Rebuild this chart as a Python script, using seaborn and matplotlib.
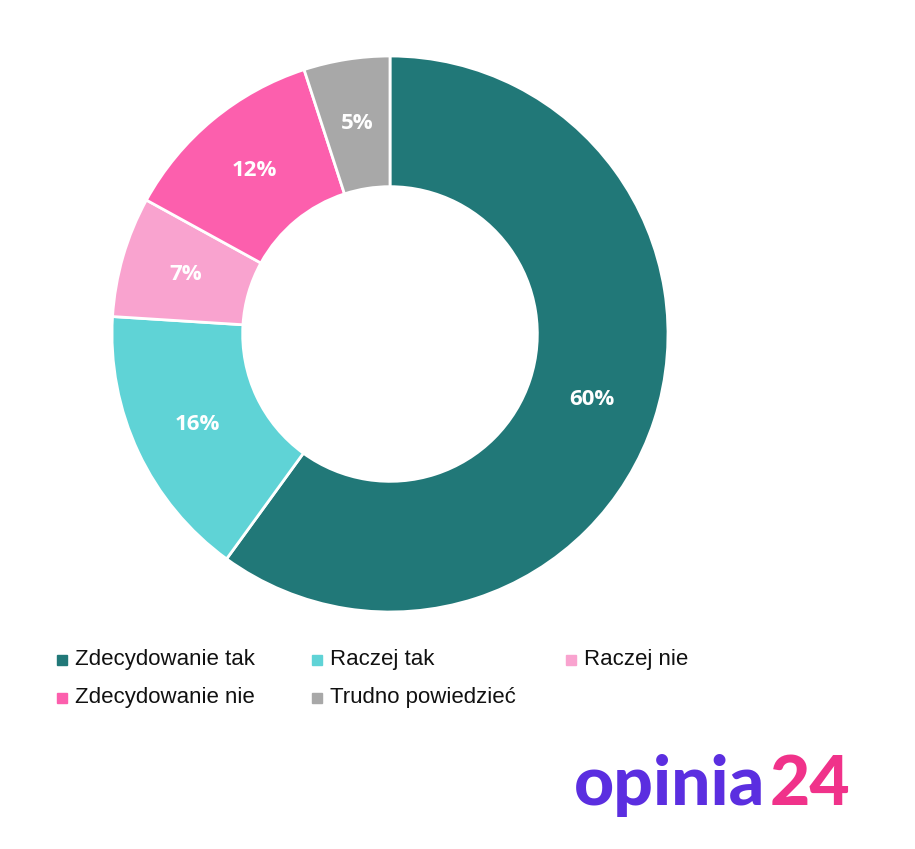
import matplotlib
matplotlib.use("Agg")
import matplotlib.pyplot as plt
import matplotlib.patches as mpatches
import numpy as np
import seaborn as sns

categories = ["Zdecydowanie tak", "Raczej tak", "Raczej nie", "Zdecydowanie nie", "Trudno powiedzieć"]
values = [60, 16, 7, 12, 5]
colors = ["#217878", "#5fd3d6", "#f9a3cf", "#fc5fad", "#a8a8a8"]

sns.set_theme(style="white")
W, H = 915, 849
fig = plt.figure(figsize=(W / 100, H / 100), dpi=100)
fig.patch.set_facecolor("white")

# donut axes in pixel geometry
cx, cy, r = 390, 334, 278
ax = fig.add_axes([(cx - r) / W, 1 - (cy + r) / H, 2 * r / W, 2 * r / H])
wedges, _ = ax.pie(values, colors=colors, startangle=90, counterclock=False,
                   radius=1, wedgeprops=dict(width=0.47, edgecolor="white", linewidth=2))
for w, v in zip(wedges, values):
    ang = np.deg2rad((w.theta1 + w.theta2) / 2)
    ax.text(0.765 * np.cos(ang), 0.765 * np.sin(ang), f"{v}%", ha="center", va="center",
            color="white", fontsize=16, fontweight="bold", family="Open Sans")
ax.set_xlim(-1, 1)
ax.set_ylim(-1, 1)
ax.set_aspect("equal")
ax.axis("off")

# legend
pos = [(62, 660), (317, 660), (571, 660), (62, 698), (317, 698)]
for (x, y), lab, c in zip(pos, categories, colors):
    fig.patches.append(mpatches.Rectangle(((x - 5) / W, 1 - (y + 5) / H), 10 / W, 10 / H,
                                          transform=fig.transFigure, color=c, figure=fig))
    fig.text((x + 13) / W, 1 - y / H, lab, ha="left", va="center", fontsize=16,
             family="Liberation Sans", color="#111111")

# logo
t = fig.text(574 / W, 1 - 805 / H, "opinia", ha="left", va="baseline", fontsize=50,
             fontweight="heavy", family="Lato", color="#5b2ee0")
fig.canvas.draw()
bb = t.get_window_extent()
fig.text((bb.x1 + 4) / W, 1 - 805 / H, "24", ha="left", va="baseline", fontsize=50,
         fontweight="heavy", family="Lato", color="#f0328a")

fig.savefig("out.png", dpi=100, facecolor="white")
